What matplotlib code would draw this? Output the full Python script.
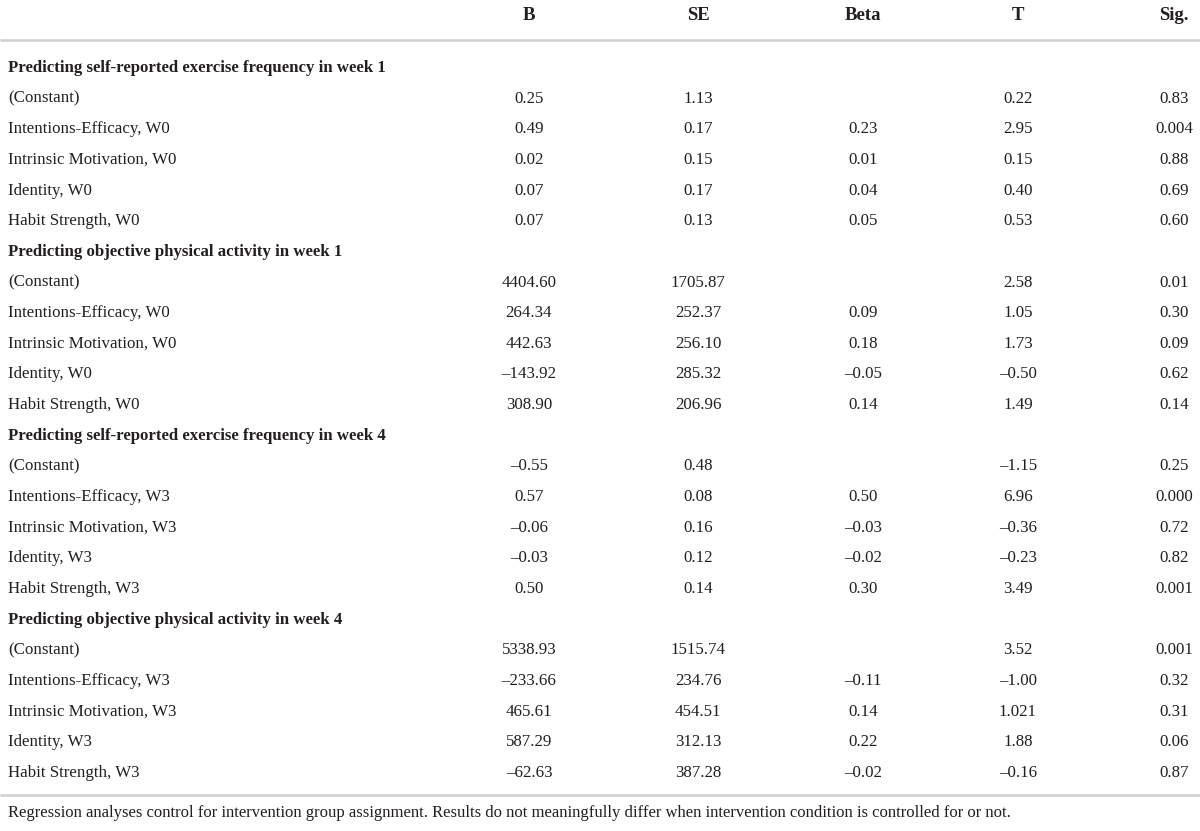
import matplotlib
matplotlib.use("Agg")
import matplotlib.pyplot as plt

columns = ["B", "SE", "Beta", "T", "Sig."]

sections = [
    "Predicting self-reported exercise frequency in week 1",
    "Predicting objective physical activity in week 1",
    "Predicting self-reported exercise frequency in week 4",
    "Predicting objective physical activity in week 4",
]

labels_w0 = ["(Constant)", "Intentions-Efficacy, W0", "Intrinsic Motivation, W0",
             "Identity, W0", "Habit Strength, W0"]
labels_w3 = ["(Constant)", "Intentions-Efficacy, W3", "Intrinsic Motivation, W3",
             "Identity, W3", "Habit Strength, W3"]

s1_B = ["0.25", "0.49", "0.02", "0.07", "0.07"]
s1_SE = ["1.13", "0.17", "0.15", "0.17", "0.13"]
s1_Beta = ["", "0.23", "0.01", "0.04", "0.05"]
s1_T = ["0.22", "2.95", "0.15", "0.40", "0.53"]
s1_Sig = ["0.83", "0.004", "0.88", "0.69", "0.60"]

s2_B = ["4404.60", "264.34", "442.63", "\u2013143.92", "308.90"]
s2_SE = ["1705.87", "252.37", "256.10", "285.32", "206.96"]
s2_Beta = ["", "0.09", "0.18", "\u20130.05", "0.14"]
s2_T = ["2.58", "1.05", "1.73", "\u20130.50", "1.49"]
s2_Sig = ["0.01", "0.30", "0.09", "0.62", "0.14"]

s3_B = ["\u20130.55", "0.57", "\u20130.06", "\u20130.03", "0.50"]
s3_SE = ["0.48", "0.08", "0.16", "0.12", "0.14"]
s3_Beta = ["", "0.50", "\u20130.03", "\u20130.02", "0.30"]
s3_T = ["\u20131.15", "6.96", "\u20130.36", "\u20130.23", "3.49"]
s3_Sig = ["0.25", "0.000", "0.72", "0.82", "0.001"]

s4_B = ["5338.93", "\u2013233.66", "465.61", "587.29", "\u201362.63"]
s4_SE = ["1515.74", "234.76", "454.51", "312.13", "387.28"]
s4_Beta = ["", "\u20130.11", "0.14", "0.22", "\u20130.02"]
s4_T = ["3.52", "\u20131.00", "1.021", "1.88", "\u20130.16"]
s4_Sig = ["0.001", "0.32", "0.31", "0.06", "0.87"]

footnote = ("Regression analyses control for intervention group assignment. "
            "Results do not meaningfully differ when intervention condition is controlled for or not.")

section_data = [
    (sections[0], labels_w0, [s1_B, s1_SE, s1_Beta, s1_T, s1_Sig]),
    (sections[1], labels_w0, [s2_B, s2_SE, s2_Beta, s2_T, s2_Sig]),
    (sections[2], labels_w3, [s3_B, s3_SE, s3_Beta, s3_T, s3_Sig]),
    (sections[3], labels_w3, [s4_B, s4_SE, s4_Beta, s4_T, s4_Sig]),
]

W, H = 1200, 831
fig = plt.figure(figsize=(W / 100, H / 100), dpi=100)
ax = fig.add_axes([0, 0, 1, 1])
ax.set_xlim(0, W)
ax.set_ylim(H, 0)
ax.axis("off")

font = ["Liberation Serif", "DejaVu Serif"]
txt_color = "#231f20"
line_color = "#cfcfcf"
fs_label = 12.2
fs_value = 12.2
fs_title = 12.1
fs_header = 13.5
fs_note = 12.0

col_x = [529, 698, 863, 1018, 1174]
left_x = 8
header_y = 15
row0_y = 68
row_h = 30.65

for cx, name in zip(col_x, columns):
    ax.text(cx, header_y, name, ha="center", va="center", fontsize=fs_header,
            fontweight="bold", family=font, color=txt_color)

ax.plot([0, W], [40, 40], color=line_color, lw=1.8, solid_capstyle="butt")

r = 0
for title, labels, cols in section_data:
    y = row0_y + r * row_h
    ax.text(left_x, y, title, ha="left", va="center", fontsize=fs_title,
            fontweight="bold", family=font, color=txt_color)
    r += 1
    for i, lab in enumerate(labels):
        y = row0_y + r * row_h
        ax.text(left_x, y, lab, ha="left", va="center", fontsize=fs_label,
                family=font, color=txt_color)
        for cx, vals in zip(col_x, cols):
            if vals[i]:
                ax.text(cx, y, vals[i], ha="center", va="center", fontsize=fs_value,
                        family=font, color=txt_color)
        r += 1

ax.plot([0, W], [795, 795], color=line_color, lw=1.8, solid_capstyle="butt")
ax.text(left_x, 813, footnote, ha="left", va="center", fontsize=fs_note,
        family=font, color=txt_color)

fig.savefig("out.png", dpi=100, facecolor="white")
